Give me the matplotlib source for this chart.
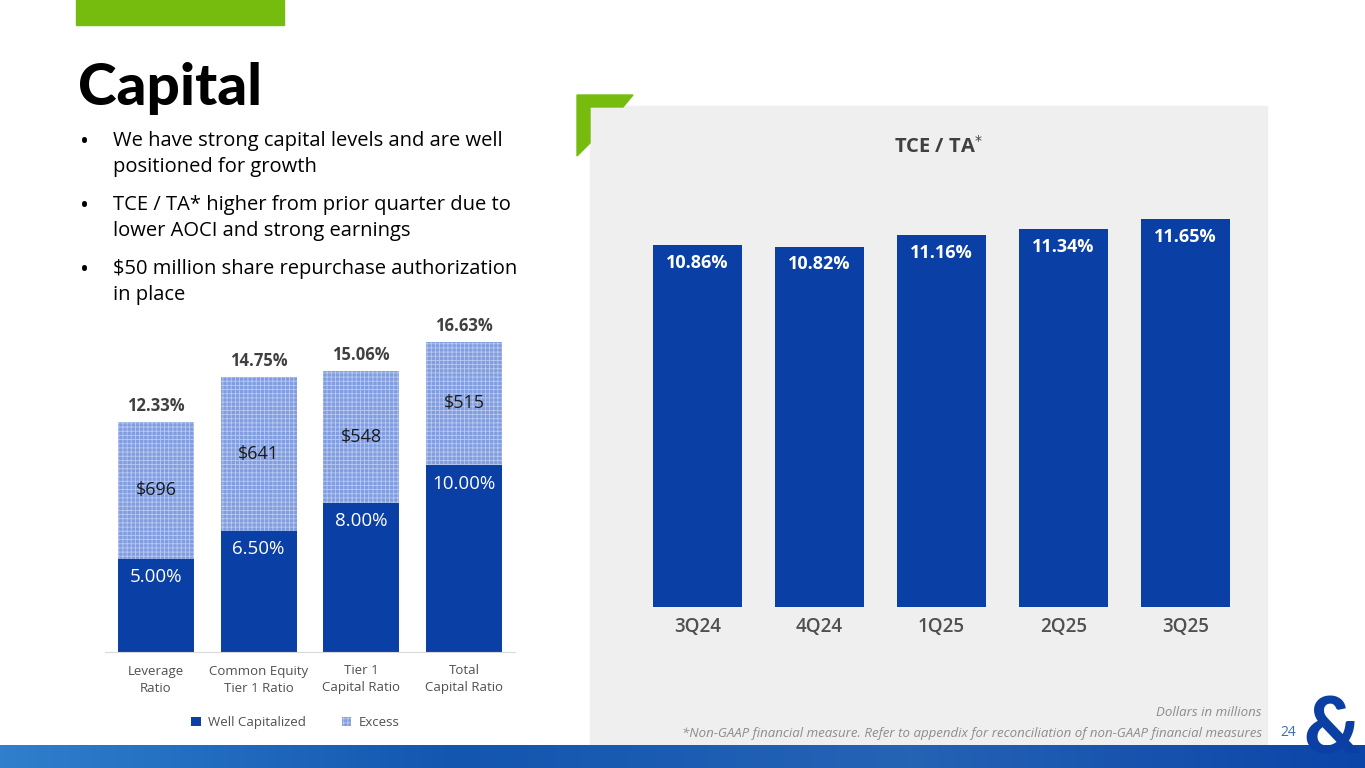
import numpy as np
import matplotlib
matplotlib.use("Agg")
import matplotlib.pyplot as plt
from matplotlib.patches import Rectangle, Polygon
from matplotlib.colors import LinearSegmentedColormap

plt.rcParams['font.family'] = ['Open Sans', 'DejaVu Sans']

# ---- data ----
cap_labels = ["Leverage\nRatio", "Common Equity\nTier 1 Ratio", "Tier 1\nCapital Ratio", "Total\nCapital Ratio"]
well_cap = [5.00, 6.50, 8.00, 10.00]
total_ratio = [12.33, 14.75, 15.06, 16.63]
excess_dollars = ["$696", "$641", "$548", "$515"]

quarters = ["3Q24", "4Q24", "1Q25", "2Q25", "3Q25"]
tce_ta = [10.86, 10.82, 11.16, 11.34, 11.65]

bullets = [
    "We have strong capital levels and are well\npositioned for growth",
    "TCE / TA* higher from prior quarter due to\nlower AOCI and strong earnings",
    "$50 million share repurchase authorization\nin place",
]

BLUE = "#0a3fa6"
EXCESS = "#7f9de0"
GRAY_TXT = "#404040"
W, H = 1365, 768

fig = plt.figure(figsize=(W / 100, H / 100), dpi=100)

def px_axes(x0, y0, x1, y1, **kw):
    # axes placed with pixel coords (top-left origin)
    return fig.add_axes([x0 / W, 1 - y1 / H, (x1 - x0) / W, (y1 - y0) / H], **kw)

# background decorations
bg = px_axes(0, 0, W, H, zorder=0)
bg.set_xlim(0, W)
bg.set_ylim(H, 0)
bg.axis("off")
bg.add_patch(Rectangle((76, 0), 208, 25, color="#76bc0e"))
bg.add_patch(Rectangle((590, 106), 677, 640, color="#efefef"))
bg.add_patch(Polygon([(577, 95), (633, 95), (623, 107), (590, 107), (590, 143), (577, 156)],
                     closed=True, color="#76bc0e"))

# bottom gradient band
band = px_axes(0, 745, W, H, zorder=1)
cmap = LinearSegmentedColormap.from_list("band", ["#2f7fcc", "#1356b0", "#2563b5", "#0b45a8"])
band.imshow(np.linspace(0, 1, 256).reshape(1, -1), aspect="auto", cmap=cmap, extent=(0, 1, 0, 1))
band.axis("off")

# title and bullets
fig.text(78 / W, 1 - 105 / H, "Capital", fontsize=42, fontweight="black", color="black",
         va="baseline", family=["Lato", "DejaVu Sans"])
y = 143
for b in bullets:
    fig.text(80 / W, 1 - y / H, "\u2022", fontsize=17, color="black", va="center")
    fig.text(113 / W, 1 - (y - 12) / H, b, fontsize=14.5, color="black", va="top", linespacing=1.37)
    y += 64

# ---- left chart: regulatory ratios ----
ax1 = px_axes(104.7, 316, 515.3, 652, zorder=2)
ax1.patch.set_alpha(0)
x1 = np.arange(len(cap_labels))
excess = [t - w for t, w in zip(total_ratio, well_cap)]
ax1.bar(x1, well_cap, width=0.74, color=BLUE, label="Well Capitalized")
plt.rcParams['hatch.linewidth'] = 0.6
ax1.bar(x1, excess, bottom=well_cap, width=0.74, color=EXCESS, edgecolor="#b9c9ef",
        hatch="++++", linewidth=0, label="Excess")
for i in range(len(x1)):
    ax1.text(x1[i], well_cap[i] - 1.0, f"{well_cap[i]:.2f}%", ha="center", va="center",
             color="white", fontsize=13.5)
    ax1.text(x1[i], well_cap[i] + excess[i] / 2, excess_dollars[i], ha="center", va="center",
             color="#1a1a1a", fontsize=13)
    ax1.text(x1[i], total_ratio[i] + 0.35, f"{total_ratio[i]:.2f}%", ha="center", va="bottom",
             color=GRAY_TXT, fontsize=12, fontweight="bold")
ax1.set_xlim(-0.5, len(x1) - 0.5)
ax1.set_ylim(0, 18)
ax1.set_yticks([])
ax1.set_xticks(x1)
ax1.set_xticklabels(cap_labels, fontsize=9.5, color="#505050", linespacing=1.4)
ax1.tick_params(axis="x", length=0, pad=9)
for s in ["top", "right", "left"]:
    ax1.spines[s].set_visible(False)
ax1.spines["bottom"].set_color("#d9d9d9")
leg = ax1.legend(loc="upper center", bbox_to_anchor=(0.465, -0.155), ncol=2, frameon=False,
                 fontsize=9.5, handlelength=0.7, handleheight=0.7, columnspacing=2.7,
                 handletextpad=0.6)
for t in leg.get_texts():
    t.set_color("#505050")

# ---- right chart: TCE / TA ----
ax2 = px_axes(636.5, 174, 1246.5, 607, zorder=2)
ax2.patch.set_alpha(0)
x2 = np.arange(len(quarters))
ax2.bar(x2, tce_ta, width=0.73, color=BLUE)
for i in range(len(x2)):
    ax2.text(x2[i], tce_ta[i] - 0.53, f"{tce_ta[i]:.2f}%", ha="center", va="center",
             color="white", fontsize=13, fontweight="bold")
ax2.set_xlim(-0.5, len(x2) - 0.5)
ax2.set_ylim(0, 13)
ax2.set_yticks([])
ax2.set_xticks(x2)
ax2.set_xticklabels(quarters, fontsize=13.5, color="#505050", fontweight="semibold")
ax2.tick_params(axis="x", length=0, pad=7)
for s in ax2.spines.values():
    s.set_visible(False)
fig.text(938 / W, 1 - 147 / H, r"TCE / TA$^{*}$", ha="center", va="center", fontsize=14.5,
         fontweight="bold", color=GRAY_TXT)

# footnotes
fig.text(1262 / W, 1 - 712 / H, "Dollars in millions", ha="right", va="center",
         fontsize=9.5, style="italic", color="#8c8c8c")
fig.text(1262 / W, 1 - 733 / H,
         "*Non-GAAP financial measure. Refer to appendix for reconciliation of non-GAAP financial measures",
         ha="right", va="center", fontsize=9.5, style="italic", color="#8c8c8c")
fig.text(1288 / W, 1 - 733 / H, "24", ha="center", va="center", fontsize=10, color="#3d6db5")
fig.text(1332 / W, 1 - 766 / H, "&", ha="center", va="bottom", fontsize=56,
         fontweight="black", color="#0b3fa3", zorder=5, family=["Lato", "DejaVu Sans"])

fig.savefig("out.png", dpi=100)
